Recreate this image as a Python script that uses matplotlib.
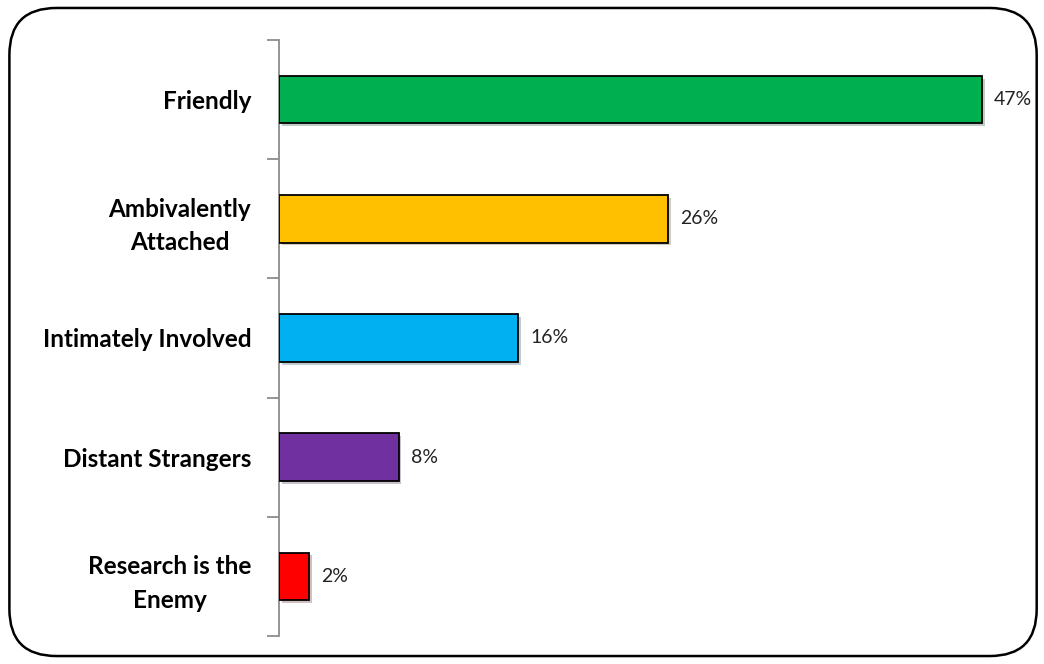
import matplotlib.pyplot as plt
import matplotlib.patheffects as pe
from matplotlib.patches import FancyBboxPatch
import numpy as np

categories = ['Friendly', 'Ambivalently\nAttached', 'Intimately Involved',
              'Distant Strangers', 'Research is the\nEnemy']
values = [47, 26, 16, 8, 2]
colors = ['#00B050', '#FFC000', '#00B0F0', '#7030A0', '#FF0000']

fig = plt.figure(figsize=(10.44, 6.64), dpi=100)

# rounded frame round the whole chart
frame = FancyBboxPatch((0.009, 0.012), 0.984, 0.976,
                       boxstyle='round,pad=0,rounding_size=0.045',
                       transform=fig.transFigure, fill=False,
                       edgecolor='black', linewidth=1.8, mutation_aspect=1.57)
fig.patches.append(frame)

ax = fig.add_axes([0.2672, 0.0422, 0.7165, 0.8976])
y = np.arange(len(categories))
bars = ax.barh(y, values, height=0.4, color=colors, edgecolor='black',
               linewidth=1.3, zorder=3)
for b in bars:
    b.set_path_effects([pe.SimplePatchShadow(offset=(2, -2), alpha=0.25),
                        pe.Normal()])

for yi, v in zip(y, values):
    ax.text(v + 0.8, yi, f'{v}%', va='center', ha='left',
            fontsize=14, family='Lato', color='#222222')

ax.set_xlim(0, 50)
ax.set_ylim(len(categories) - 0.5, -0.5)

for s in ['top', 'right', 'bottom']:
    ax.spines[s].set_visible(False)
ax.spines['left'].set_color('#8c8c8c')
ax.spines['left'].set_linewidth(1.3)
ax.set_xticks([])

ax.set_yticks(y)
ax.set_yticklabels(categories, fontsize=17.5, fontweight='bold',
                   family='Lato', ma='center', linespacing=1.55)
ax.set_yticks(np.arange(-0.5, len(categories)), minor=True)
ax.tick_params(axis='y', which='major', length=0, pad=20)
ax.tick_params(axis='y', which='minor', length=9, color='#8c8c8c', width=1.3)

fig.savefig('out.png', dpi=100)
